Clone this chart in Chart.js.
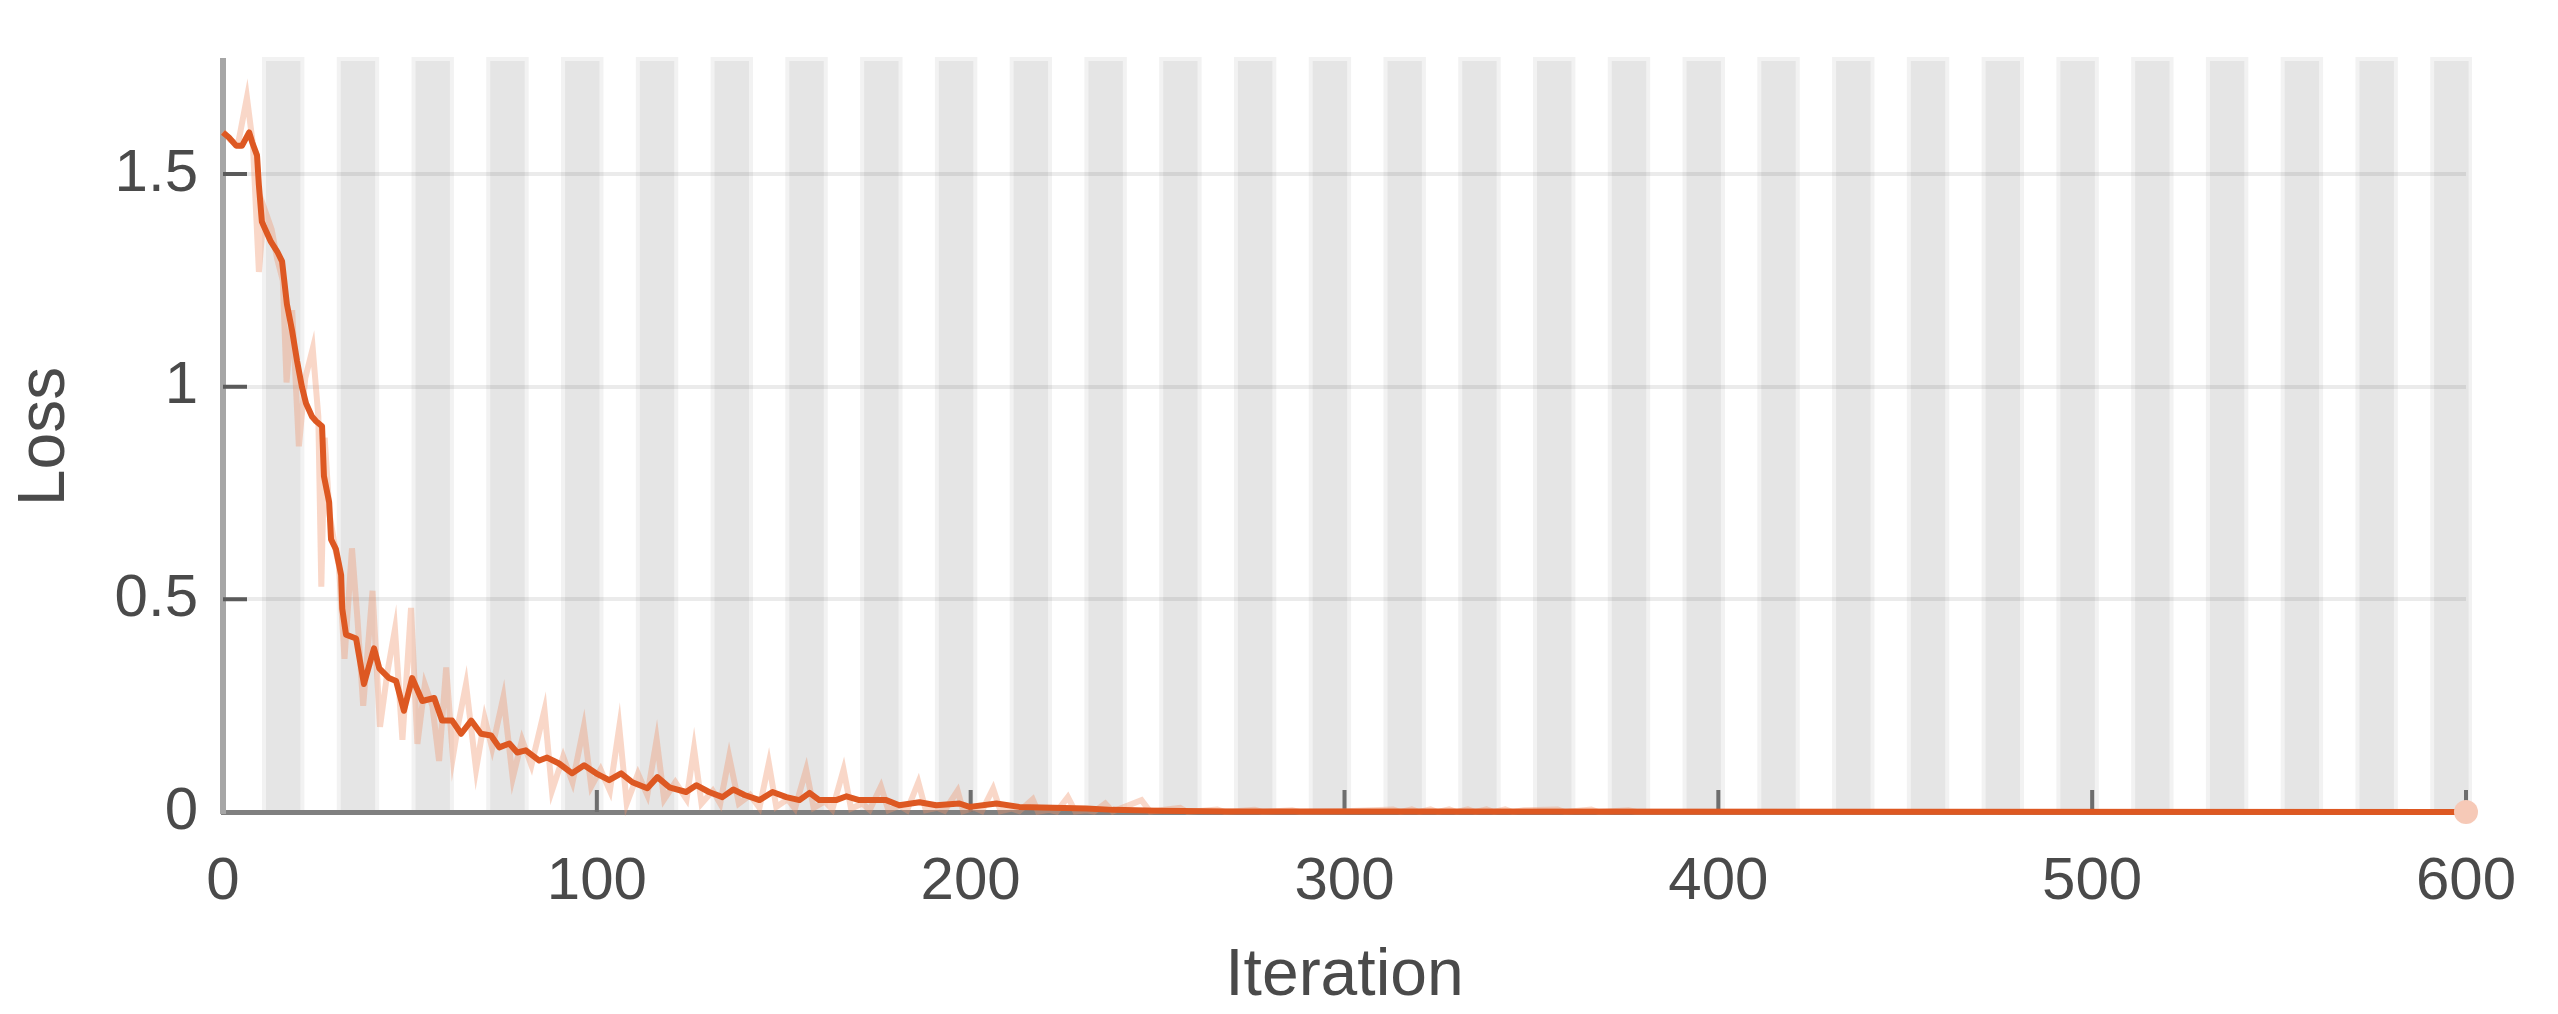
<!DOCTYPE html>
<html>
<head>
<meta charset="utf-8">
<script src="https://cdn.jsdelivr.net/npm/chart.js@4.4.1/dist/chart.umd.min.js"></script>
<style>
  html, body { margin: 0; padding: 0; background: #fff; }
  #wrap { width: 2558px; height: 1014px; }
</style>
</head>
<body>
<div id="wrap"><canvas id="lossChart" width="2558" height="1014"></canvas></div>
<script>
// smoothed training loss
const smoothIter = [0, 1.6, 3.5, 5.1, 7, 7.8, 9.1, 9.6, 10.4, 12.8, 14.5, 15.8, 17.1, 18.5, 19.8, 21.1, 22.2, 23.8,
  24.9, 26.5, 27, 28.4, 28.9, 30.2, 31.6, 31.9, 32.9, 35.6, 37.7, 40.4, 41.8, 44.4, 46.3, 48.4, 50.6, 53.3, 56.5,
  58.6, 61.3, 63.7, 66.4, 69, 71.7, 73.9, 76.6, 78.7, 81, 84.6, 86.7, 89.9, 93.4, 96.6, 99.8, 103.3, 106.5, 109.5,
  113.5, 116.2, 119.4, 123.9, 126.6, 130, 133.6, 136.5, 139.5, 143.5, 147, 150.7, 154.2, 156.9, 159.5, 164, 166.8,
  170.2, 174.8, 177.4, 180.9, 186.3, 190.8, 197, 199.7, 206.9, 213, 222, 231, 238, 250, 270, 300, 600];
const smoothLoss = [1.598, 1.586, 1.567, 1.567, 1.598, 1.575, 1.544, 1.474, 1.388, 1.341, 1.318, 1.295, 1.194, 1.131,
  1.061, 1.0, 0.961, 0.93, 0.919, 0.907, 0.79, 0.728, 0.641, 0.618, 0.557, 0.478, 0.417, 0.408, 0.301, 0.385, 0.338,
  0.315, 0.308, 0.238, 0.315, 0.261, 0.268, 0.215, 0.215, 0.184, 0.215, 0.184, 0.18, 0.152, 0.161, 0.14, 0.145,
  0.121, 0.128, 0.114, 0.091, 0.11, 0.091, 0.075, 0.091, 0.07, 0.056, 0.082, 0.058, 0.047, 0.063, 0.047, 0.035,
  0.053, 0.04, 0.028, 0.047, 0.035, 0.028, 0.045, 0.028, 0.028, 0.037, 0.028, 0.028, 0.028, 0.016, 0.023, 0.016,
  0.02, 0.012, 0.02, 0.012, 0.01, 0.008, 0.005, 0.003, 0.001, 0.001, 0];

// raw (unsmoothed) training loss
const rawIter = [0, 2, 4, 6.4, 8, 9.6, 11, 13, 14.5, 16, 17, 18.5, 20.3, 22, 24, 25.5, 26.3, 27.2, 28.5, 30, 31, 32.5,
  34.5, 36, 37.5, 40, 42, 44, 46, 48, 50.3, 52, 54, 56, 57.8, 59.7, 61.5, 63, 65, 67.7, 70, 72, 75, 77.5, 80, 82.5,
  86, 88, 91, 93.5, 96.5, 98.5, 101, 103.5, 106, 108, 111, 113.5, 116, 118, 121, 124, 126, 128, 131, 133, 135.4,
  138, 141, 143.5, 146, 148, 151, 153, 156, 158, 161, 163, 166, 168, 171, 173, 176, 178, 181, 183, 186, 188, 191,
  193, 196.5, 198, 201, 203, 206, 208, 211, 213, 216.6, 218, 221, 223, 226, 228, 231, 233, 236, 238, 245.7, 248,
  256, 258, 266, 268, 276, 278, 286, 288, 300, 313, 315, 318, 320, 323, 325, 328, 330, 333, 335, 338, 340, 343,
  345, 348, 357, 359, 366, 368, 376, 378, 600];
const rawLoss = [1.6, 1.58, 1.57, 1.68, 1.57, 1.27, 1.42, 1.37, 1.3, 1.25, 1.01, 1.18, 0.86, 1.02, 1.09, 0.93, 0.53,
  0.88, 0.7, 0.62, 0.58, 0.36, 0.62, 0.45, 0.25, 0.52, 0.2, 0.33, 0.43, 0.17, 0.48, 0.16, 0.3, 0.25, 0.12, 0.34,
  0.13, 0.21, 0.3, 0.1, 0.22, 0.15, 0.27, 0.08, 0.17, 0.11, 0.24, 0.05, 0.13, 0.07, 0.2, 0.06, 0.1, 0.05, 0.2,
  0.02, 0.09, 0.04, 0.17, 0.03, 0.07, 0.03, 0.15, 0.02, 0.05, 0.02, 0.13, 0.02, 0.04, 0.01, 0.115, 0.012, 0.03,
  0.008, 0.1, 0.01, 0.025, 0.006, 0.1, 0.008, 0.02, 0.005, 0.06, 0.004, 0.015, 0.004, 0.07, 0.004, 0.01, 0.003,
  0.05, 0.002, 0.01, 0.002, 0.055, 0.002, 0.008, 0.002, 0.03, 0.001, 0.005, 0.001, 0.035, 0.001, 0.004, 0.001,
  0.02, 0.001, 0.028, 0.001, 0.01, 0, 0.006, 0, 0.005, 0, 0.004, 0, 0.002, 0.006, 0, 0.006, 0, 0.006, 0, 0.006,
  0, 0.006, 0, 0.006, 0, 0.006, 0, 0.004, 0.006, 0, 0.006, 0, 0.004, 0, 0];

// last point marker
const finalIter = [600];
const finalLoss = [0];

// shaded epochs (every second epoch, 10 iterations each)
const shadeStart = [11.5, 31.5, 51.5, 71.5, 91.5, 111.5, 131.5, 151.5, 171.5, 191.5, 211.5, 231.5, 251.5, 271.5,
  291.5, 311.5, 331.5, 351.5, 371.5, 391.5, 411.5, 431.5, 451.5, 471.5, 491.5, 511.5, 531.5, 551.5, 571.5, 591.5];
const shadeEnd = shadeStart.map(s => s + 9.2);

const yTicks = [0, 0.5, 1, 1.5];

const fontFam = '"Liberation Sans", Arial, Helvetica, sans-serif';
const textCol = '#4a4a4a';

const pts = (xs, ys) => xs.map((x, i) => ({x: x, y: ys[i]}));

const epochShade = {
  id: 'epochShade',
  beforeDraw(chart) {
    const {ctx, chartArea: a, scales: {x}} = chart;
    ctx.save();
    ctx.beginPath();
    ctx.rect(a.left, a.top - 4, a.right - a.left + 6, a.bottom - a.top + 4);
    ctx.clip();
    shadeStart.forEach((s, i) => {
      const x1 = x.getPixelForValue(s), x2 = x.getPixelForValue(shadeEnd[i]);
      ctx.fillStyle = '#f2f2f2';
      ctx.fillRect(x1 - 4, a.top - 4, x2 - x1 + 8, a.bottom - a.top + 4);
      ctx.fillStyle = '#e5e5e5';
      ctx.fillRect(x1, a.top, x2 - x1, a.bottom - a.top);
    });
    ctx.restore();
  }
};

const innerTicks = {
  id: 'innerTicks',
  beforeDatasetsDraw(chart) {
    const {ctx, chartArea: a, scales: {x, y}} = chart;
    ctx.save();
    ctx.lineWidth = 4;
    ctx.strokeStyle = '#5a5a5a';
    ctx.beginPath();
    y.ticks.forEach(t => {
      if (t.value === 0) return;
      const py = y.getPixelForValue(t.value);
      ctx.moveTo(a.left, py);
      ctx.lineTo(a.left + 24, py);
    });
    ctx.stroke();
    ctx.strokeStyle = '#6e6e6e';
    ctx.beginPath();
    x.ticks.forEach(t => {
      if (t.value === 0) return;
      const px = x.getPixelForValue(t.value);
      ctx.moveTo(px, a.bottom);
      ctx.lineTo(px, a.bottom - 22);
    });
    ctx.stroke();
    ctx.restore();
  }
};

new Chart(document.getElementById('lossChart'), {
  type: 'line',
  data: {
    datasets: [
      {
        label: 'final',
        data: pts(finalIter, finalLoss),
        showLine: false,
        pointRadius: 12,
        pointBackgroundColor: '#f6c9b7',
        pointBorderWidth: 0,
        clip: false,
        order: 0
      },
      {
        label: 'Smoothed loss',
        data: pts(smoothIter, smoothLoss),
        borderColor: '#dd5822',
        borderWidth: 6,
        borderJoinStyle: 'round',
        pointRadius: 0,
        tension: 0,
        clip: 6,
        order: 1
      },
      {
        label: 'Loss',
        data: pts(rawIter, rawLoss),
        borderColor: 'rgba(240,150,110,0.38)',
        borderWidth: 6,
        pointRadius: 0,
        tension: 0,
        clip: 6,
        order: 2
      }
    ]
  },
  options: {
    responsive: false,
    devicePixelRatio: 1,
    animation: false,
    layout: { padding: { top: 55, right: 92, bottom: 0, left: 0 } },
    plugins: { legend: { display: false }, tooltip: { enabled: false } },
    scales: {
      x: {
        type: 'linear',
        min: 0,
        max: 600,
        afterFit: s => { s.height = 202; },
        grid: { display: false, drawTicks: false },
        border: { color: '#808080', width: 5 },
        ticks: {
          stepSize: 100,
          padding: 34,
          maxRotation: 0,
          autoSkip: false,
          color: textCol,
          font: { size: 60, family: fontFam }
        },
        title: {
          display: true,
          text: 'Iteration',
          color: textCol,
          padding: { top: 0, bottom: 4 },
          font: { size: 66, family: fontFam, lineHeight: 1 }
        }
      },
      y: {
        min: 0,
        max: 1.766,
        afterFit: s => { s.width = 223; },
        afterBuildTicks: s => { s.ticks = yTicks.map(v => ({value: v})); },
        grid: {
          drawTicks: false,
          lineWidth: 4,
          color: c => (c.tick && c.tick.value === 0) ? 'rgba(0,0,0,0)' : 'rgba(0,0,0,0.08)'
        },
        border: { color: '#a6a6a6', width: 6 },
        ticks: {
          padding: 25,
          color: textCol,
          font: { size: 60, family: fontFam },
          callback: v => String(v)
        },
        title: {
          display: true,
          text: 'Loss',
          color: textCol,
          padding: { top: 13, bottom: 0 },
          font: { size: 66, family: fontFam, lineHeight: 1 }
        }
      }
    }
  },
  plugins: [epochShade, innerTicks]
});
</script>
</body>
</html>
